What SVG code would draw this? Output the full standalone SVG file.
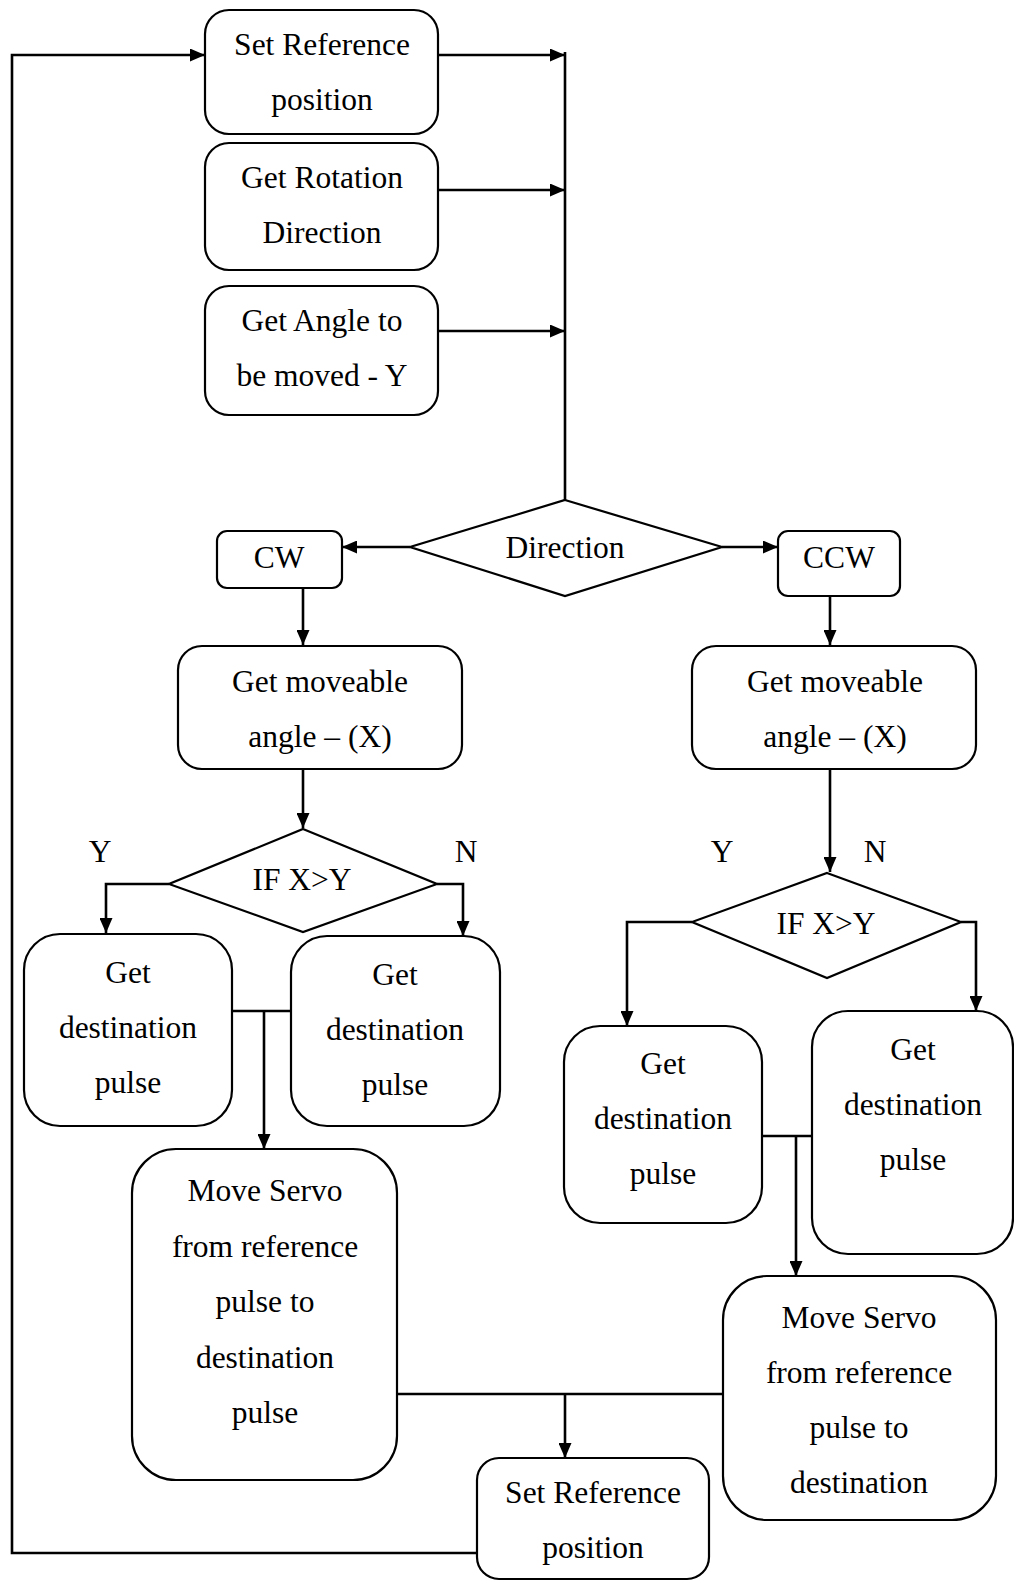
<svg xmlns="http://www.w3.org/2000/svg" width="1014" height="1581" viewBox="0 0 1014 1581">
<style>
.n{fill:#fff;stroke:#000;stroke-width:2.2}
.t{font-family:"Liberation Serif","Times New Roman",serif;font-size:31.5px;text-anchor:middle;fill:#000}
.c{fill:none;stroke:#000;stroke-width:2.6}
</style>
<defs>
<marker id="a" viewBox="0 0 15 13" refX="15" refY="6.5" markerWidth="15" markerHeight="13" markerUnits="userSpaceOnUse" orient="auto">
<path d="M0,0 L15,6.5 L0,13 Z" fill="#000"/>
</marker>
</defs>
<rect width="1014" height="1581" fill="#fff"/>
<g id="connectors">
<path class="c" d="M438,55 H565" marker-end="url(#a)"/>
<path class="c" d="M438,190 H565" marker-end="url(#a)"/>
<path class="c" d="M438,331 H565" marker-end="url(#a)"/>
<path class="c" d="M565,52 V500"/>
<path class="c" d="M410,547 H342" marker-end="url(#a)"/>
<path class="c" d="M722,547 H778" marker-end="url(#a)"/>
<path class="c" d="M303,588 V645" marker-end="url(#a)"/>
<path class="c" d="M830,596 V645" marker-end="url(#a)"/>
<path class="c" d="M303,769 V828" marker-end="url(#a)"/>
<path class="c" d="M830,769 V872" marker-end="url(#a)"/>
<path class="c" d="M169,884 H106 V933" marker-end="url(#a)"/>
<path class="c" d="M437,884 H463 V936" marker-end="url(#a)"/>
<path class="c" d="M232,1011 H291"/>
<path class="c" d="M264,1011 V1149" marker-end="url(#a)"/>
<path class="c" d="M692,922 H627 V1026" marker-end="url(#a)"/>
<path class="c" d="M961,922 H976 V1011" marker-end="url(#a)"/>
<path class="c" d="M762,1136 H812"/>
<path class="c" d="M796,1136 V1276" marker-end="url(#a)"/>
<path class="c" d="M397,1394 H723"/>
<path class="c" d="M565,1394 V1458" marker-end="url(#a)"/>
<path class="c" d="M477,1553 H12 V55 H205" marker-end="url(#a)"/>
</g>
<g id="set-ref-top">
<rect class="n" x="205" y="10" width="233" height="124" rx="24"/>
<text class="t" x="322" y="55">Set Reference</text>
<text class="t" x="322" y="110">position</text>
</g>
<g id="get-rotation">
<rect class="n" x="205" y="143" width="233" height="127" rx="24"/>
<text class="t" x="322" y="188">Get Rotation</text>
<text class="t" x="322" y="243">Direction</text>
</g>
<g id="get-angle">
<rect class="n" x="205" y="286" width="233" height="129" rx="24"/>
<text class="t" x="322" y="331">Get Angle to</text>
<text class="t" x="322" y="386">be moved - Y</text>
</g>
<g id="direction">
<polygon class="n" points="565,500 722,547 565,596 410,547"/>
<text class="t" x="565" y="558">Direction</text>
</g>
<g id="cw">
<rect class="n" x="217" y="531" width="125" height="57" rx="10"/>
<text class="t" x="279" y="568">CW</text>
</g>
<g id="ccw">
<rect class="n" x="778" y="531" width="122" height="65" rx="10"/>
<text class="t" x="839" y="568">CCW</text>
</g>
<g id="moveable-left">
<rect class="n" x="178" y="646" width="284" height="123" rx="24"/>
<text class="t" x="320" y="692">Get moveable</text>
<text class="t" x="320" y="747">angle – (X)</text>
</g>
<g id="moveable-right">
<rect class="n" x="692" y="646" width="284" height="123" rx="24"/>
<text class="t" x="835" y="692">Get moveable</text>
<text class="t" x="835" y="747">angle – (X)</text>
</g>
<g id="if-left">
<polygon class="n" points="303,829 437,884 303,932 169,884"/>
<text class="t" x="302" y="890">IF X&gt;Y</text>
</g>
<text class="t" x="100" y="862">Y</text>
<text class="t" x="466" y="862">N</text>
<g id="if-right">
<polygon class="n" points="827,873 961,922 827,978 692,922"/>
<text class="t" x="826" y="934">IF X&gt;Y</text>
</g>
<text class="t" x="722" y="862">Y</text>
<text class="t" x="875" y="862">N</text>
<g id="dest-left-y">
<rect class="n" x="24" y="934" width="208" height="192" rx="36"/>
<text class="t" x="128" y="983">Get</text>
<text class="t" x="128" y="1038">destination</text>
<text class="t" x="128" y="1093">pulse</text>
</g>
<g id="dest-left-n">
<rect class="n" x="291" y="936" width="209" height="190" rx="36"/>
<text class="t" x="395" y="985">Get</text>
<text class="t" x="395" y="1040">destination</text>
<text class="t" x="395" y="1095">pulse</text>
</g>
<g id="dest-right-y">
<rect class="n" x="564" y="1026" width="198" height="197" rx="36"/>
<text class="t" x="663" y="1074">Get</text>
<text class="t" x="663" y="1129">destination</text>
<text class="t" x="663" y="1184">pulse</text>
</g>
<g id="dest-right-n">
<rect class="n" x="812" y="1011" width="201" height="243" rx="36"/>
<text class="t" x="913" y="1060">Get</text>
<text class="t" x="913" y="1115">destination</text>
<text class="t" x="913" y="1170">pulse</text>
</g>
<g id="move-left">
<rect class="n" x="132" y="1149" width="265" height="331" rx="44"/>
<text class="t" x="265" y="1201">Move Servo</text>
<text class="t" x="265" y="1257">from reference</text>
<text class="t" x="265" y="1312">pulse to</text>
<text class="t" x="265" y="1368">destination</text>
<text class="t" x="265" y="1423">pulse</text>
</g>
<g id="move-right">
<rect class="n" x="723" y="1276" width="273" height="244" rx="44"/>
<text class="t" x="859" y="1328">Move Servo</text>
<text class="t" x="859" y="1383">from reference</text>
<text class="t" x="859" y="1438">pulse to</text>
<text class="t" x="859" y="1493">destination</text>
</g>
<g id="set-ref-bottom">
<rect class="n" x="477" y="1458" width="232" height="121" rx="22"/>
<text class="t" x="593" y="1503">Set Reference</text>
<text class="t" x="593" y="1558">position</text>
</g>
</svg>
